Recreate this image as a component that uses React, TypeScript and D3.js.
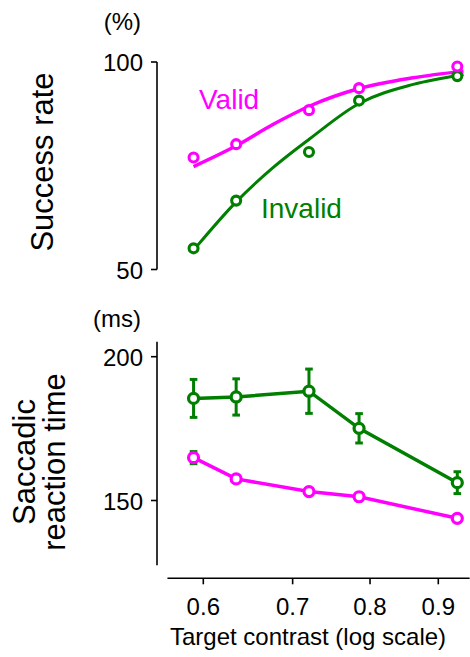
import React from 'react';
import * as d3 from 'd3';

// target contrast levels (log axis)
const contrasts = [0.59, 0.635, 0.72, 0.785, 0.93];

// success rate (%)
const validSuccess = [77.0, 80.2, 88.4, 93.7, 98.9];
const invalidSuccess = [55.1, 66.6, 78.3, 90.7, 96.6];

// fitted curves
const validFitContrasts = [0.59, 0.635, 0.677, 0.721, 0.785, 0.862, 0.94];
const validFit = [74.8, 79.8, 85.0, 89.4, 93.6, 96.2, 97.8];
const invalidFitContrasts = [0.593, 0.635, 0.677, 0.721, 0.785, 0.862, 0.94];
const invalidFit = [55.5, 66.3, 74.6, 81.5, 90.0, 94.6, 97.0];

// saccadic reaction time (ms)
const validRT = [164.9, 157.5, 153.1, 151.3, 143.8];
const validRTErr = [2.1, 1.0, 1.0, 1.0, 0.8];
const invalidRT = [185.5, 186.0, 188.0, 175.1, 156.2];
const invalidRTErr = [6.6, 6.3, 7.7, 5.1, 3.8];

const xTicks = [0.6, 0.7, 0.8, 0.9];
const successTicks = [50, 100];
const rtTicks = [150, 200];

const MAGENTA = '#ff00ff';
const GREEN = '#007f00';
const FONT = '"Liberation Sans", Arial, Helvetica, sans-serif';

export default function App() {
  const width = 470;
  const height = 657;

  const x = d3.scaleLog().domain([0.6, 0.9]).range([203.3, 438.3]);
  const xExtent = [0.564, 0.95];

  const ySucc = d3.scaleLinear().domain([50, 100]).range([269.5, 62]);
  const yRT = d3.scaleLinear().domain([150, 200]).range([500.5, 356.7]);
  const rtExtent = [127.5, 205.2];

  const axisX = 157;
  const axisY = 578.3;

  const fitLine = (ys: number[]) =>
    d3
      .line<number>()
      .x((c) => x(c))
      .y((_, i) => ys[i])
      .curve(d3.curveMonotoneX);

  const succLine = (cs: number[], vs: number[]) =>
    fitLine(vs.map((v) => ySucc(v)))(cs) || '';

  const rtLine = (vs: number[]) =>
    d3
      .line<number>()
      .x((c) => x(c))
      .y((_, i) => yRT(vs[i]))(contrasts) || '';

  const marker = (cx: number, cy: number, color: string, key: string, r = 4.5, sw = 3.1) => (
    <circle key={key} cx={cx} cy={cy} r={r} fill="#fff" stroke={color} strokeWidth={sw} />
  );

  const errBars = (vs: number[], es: number[], color: string, prefix: string) =>
    contrasts.map((c, i) => {
      const cx = x(c);
      const y1 = yRT(vs[i] + es[i]);
      const y2 = yRT(vs[i] - es[i]);
      return (
        <g key={prefix + i} stroke={color} strokeWidth={3}>
          <line x1={cx} x2={cx} y1={y1} y2={y2} />
          <line x1={cx - 3.8} x2={cx + 3.8} y1={y1} y2={y1} />
          <line x1={cx - 3.8} x2={cx + 3.8} y1={y2} y2={y2} />
        </g>
      );
    });

  return (
    <svg
      width={width}
      height={height}
      style={{ position: 'absolute', left: 0, top: 0, background: '#fff' }}
      fontFamily={FONT}
    >
      {/* ---------- top panel: success rate ---------- */}
      <g stroke="#000" strokeWidth={1.6} fill="none">
        <line x1={axisX} x2={axisX} y1={ySucc(100)} y2={ySucc(50)} />
        {successTicks.map((t) => (
          <line key={t} x1={axisX - 6} x2={axisX} y1={ySucc(t)} y2={ySucc(t)} />
        ))}
      </g>
      {successTicks.map((t) => (
        <text key={t} x={143} y={ySucc(t)} dy="0.38em" textAnchor="end" fontSize={24}>
          {t}
        </text>
      ))}
      <text x={141} y={30} textAnchor="end" fontSize={24}>(%)</text>
      <text transform="translate(53,162) rotate(-90)" textAnchor="middle" fontSize={31}>
        Success rate
      </text>

      <path d={succLine(validFitContrasts, validFit)} fill="none" stroke={MAGENTA} strokeWidth={3.5} />
      <path d={succLine(invalidFitContrasts, invalidFit)} fill="none" stroke={GREEN} strokeWidth={3} />
      {contrasts.map((c, i) => marker(x(c), ySucc(invalidSuccess[i]), GREEN, 'is' + i))}
      {contrasts.map((c, i) => marker(x(c), ySucc(validSuccess[i]), MAGENTA, 'vs' + i))}

      <text x={199} y={109} fontSize={28} fill={MAGENTA}>Valid</text>
      <text x={261} y={218} fontSize={28} fill={GREEN}>Invalid</text>

      {/* ---------- bottom panel: reaction time ---------- */}
      <g stroke="#000" strokeWidth={1.6} fill="none">
        <line x1={axisX} x2={axisX} y1={yRT(rtExtent[1])} y2={yRT(rtExtent[0])} />
        {rtTicks.map((t) => (
          <line key={t} x1={axisX - 6} x2={axisX} y1={yRT(t)} y2={yRT(t)} />
        ))}
      </g>
      {rtTicks.map((t) => (
        <text key={t} x={143} y={yRT(t)} dy="0.38em" textAnchor="end" fontSize={24}>
          {t}
        </text>
      ))}
      <text x={141} y={327} textAnchor="end" fontSize={24}>(ms)</text>
      <text transform="translate(35,462) rotate(-90)" textAnchor="middle" fontSize={31}>
        Saccadic
      </text>
      <text transform="translate(65,462) rotate(-90)" textAnchor="middle" fontSize={31}>
        reaction time
      </text>

      {errBars(invalidRT, invalidRTErr, GREEN, 'ie')}
      <path d={rtLine(invalidRT)} fill="none" stroke={GREEN} strokeWidth={3.5} />
      {contrasts.map((c, i) => marker(x(c), yRT(invalidRT[i]), GREEN, 'ir' + i, 5, 3.2))}

      {errBars(validRT, validRTErr, GREEN, 've')}
      <path d={rtLine(validRT)} fill="none" stroke={MAGENTA} strokeWidth={3.5} />
      {contrasts.map((c, i) => marker(x(c), yRT(validRT[i]), MAGENTA, 'vr' + i, 5, 3.2))}

      {/* ---------- shared x axis ---------- */}
      <g stroke="#000" strokeWidth={1.6} fill="none">
        <line x1={x(xExtent[0])} x2={x(xExtent[1])} y1={axisY} y2={axisY} />
        {xTicks.map((t) => (
          <line key={t} x1={x(t)} x2={x(t)} y1={axisY} y2={axisY + 6} />
        ))}
      </g>
      {xTicks.map((t) => (
        <text key={t} x={x(t)} y={615} textAnchor="middle" fontSize={24}>
          {d3.format('.1f')(t)}
        </text>
      ))}
      <text x={308} y={645} textAnchor="middle" fontSize={24}>
        Target contrast (log scale)
      </text>
    </svg>
  );
}
